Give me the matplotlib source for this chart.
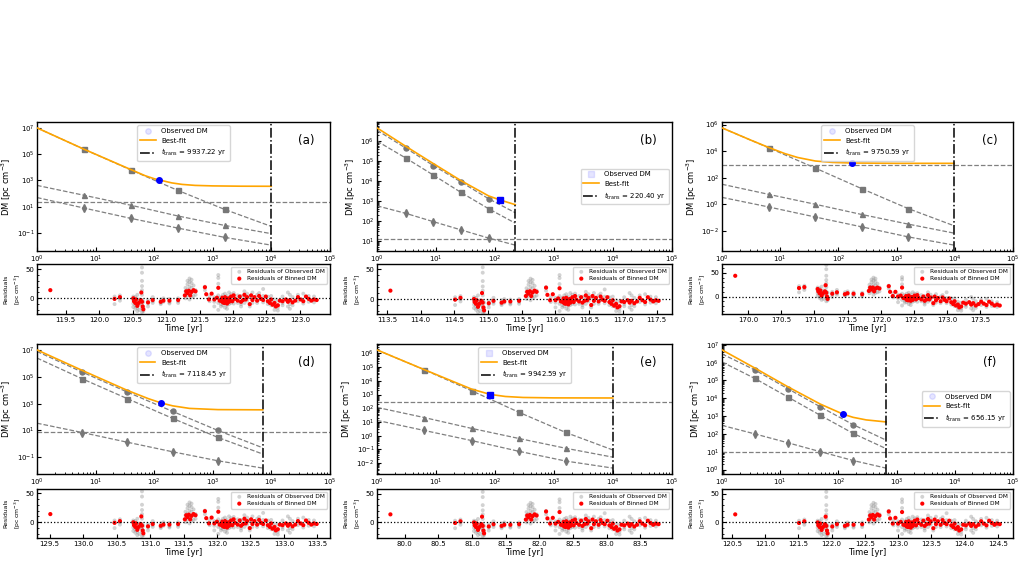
import numpy as np
import matplotlib.pyplot as plt
from matplotlib.ticker import MultipleLocator, AutoMinorLocator

plt.rcParams['font.family'] = 'DejaVu Sans'
plt.rcParams['mathtext.fontset'] = 'dejavusans'

#################################################
# main panels: model components

labels = ['(a)', '(b)', '(c)', '(d)', '(e)', '(f)']
t_trans = [9937.22, 220.40, 9750.59, 7118.45, 9942.59, 656.15]

# component curves: times (start, 4 marker times, t_trans)
a_t = [1, 6.3, 40, 251, 1585, 9937.22]
a_sq = [1e7, 2.4e5, 6.3e3, 178, 6.3, 0.32]
a_tri = [420, 75, 13, 2.0, 0.38, 0.09]
a_dia = [50, 8, 1.3, 0.24, 0.047, 0.012]
a_const = 24
a_fit_t = [1, 6.3, 40, 70, 100, 122, 160, 200, 300, 500, 1000, 3000, 9937.22]
a_fit = [1e7, 2.4e5, 6.7e3, 2.3e3, 1.35e3, 1.1e3, 820, 650, 500, 420, 385, 365, 360]

b_t = [1, 3.1, 9.0, 26.5, 78, 220.40]
b_circ = [3.5e6, 4.4e5, 6e4, 9e3, 1.3e3, 260]
b_sq = [1e6, 1.4e5, 2e4, 2.7e3, 410, 78]
b_dia = [575, 240, 93, 36, 14, 6.2]
b_const = 12
b_fit_t = [1, 3.1, 9, 26.5, 78, 120, 160, 220.40]
b_fit = [4.6e6, 5.4e5, 7.5e4, 1.05e4, 1.8e3, 1.15e3, 880, 660]

c_t = [1, 6.3, 40, 251, 1585, 9750.59]
c_sq = [5.6e5, 1.8e4, 530, 15, 0.47, 0.024]
c_tri = [32, 5.6, 1.0, 0.17, 0.032, 0.0067]
c_dia = [3.3, 0.63, 0.11, 0.02, 0.0035, 8.4e-4]
c_const = 840
c_fit_t = [1, 3, 6.3, 12, 20, 40, 80, 175, 1000, 9750.59]
c_fit = [5.6e5, 7.2e4, 1.9e4, 6.5e3, 3.3e3, 1.8e3, 1.4e3, 1.27e3, 1.2e3, 1.2e3]

d_t = [1, 5.9, 35, 207, 1220, 7118.45]
d_circ = [8.4e6, 2.4e5, 7.5e3, 266, 10, 0.5]
d_sq = [2.7e6, 7.5e4, 2.4e3, 80, 3, 0.17]
d_dia = [35, 7, 1.3, 0.25, 0.053, 0.015]
d_const = 8
d_fit_t = [1, 5.9, 35, 80, 132, 207, 400, 1220, 7118.45]
d_fit = [1.1e7, 3.2e5, 1.0e4, 2.4e3, 1.15e3, 700, 450, 365, 352]

e_t = [1, 6.3, 40, 251, 1585, 9942.59]
e_sq = [1.8e6, 6.5e4, 1.9e3, 52, 1.7, 0.09]
e_tri = [115, 21, 3.4, 0.63, 0.12, 0.027]
e_dia = [13, 2.4, 0.44, 0.073, 0.014, 0.0043]
e_const = 270
e_fit_t = [1, 6.3, 40, 83, 150, 300, 1000, 9942.59]
e_fit = [1.8e6, 6.6e4, 2.5e3, 1.02e3, 720, 610, 570, 560]

f_t = [1, 3.66, 13.4, 49, 179, 656.15]
f_circ = [3.1e6, 3.9e5, 3.5e4, 3.3e3, 330, 45]
f_sq = [1.1e6, 1.3e5, 1.2e4, 1.1e3, 107, 15]
f_dia = [300, 100, 32, 10, 3.2, 1.2]
f_const = 9.3
f_fit_t = [1, 3.66, 13.4, 49, 122, 179, 300, 656.15]
f_fit = [5.2e6, 5.0e5, 4.5e4, 4.7e3, 1.26e3, 850, 610, 470]

# observed DM point (time, DM, marker)
obs_t = [122, 120, 172, 132, 83, 122]
obs_dm = [1050, 1150, 1300, 1100, 1000, 1260]
obs_marker = ['o', 's', 'o', 'o', 's', 'o']

legend_loc = ['upper center', 'center right', 'upper center',
              'upper center', 'upper center', 'center right']

# y tick decades per panel
yticks_exp = [[-1, 1, 3, 5, 7], [1, 2, 3, 4, 5, 6], [-2, 0, 2, 4, 6],
              [-1, 1, 3, 5, 7], [-2, -1, 0, 1, 2, 3, 4, 5, 6], [0, 1, 2, 3, 4, 5, 6, 7]]

#################################################
# residuals: offsets from first epoch [yr]

t0 = [119.27, 113.55, 169.81, 129.51, 79.79, 120.55]

bin_rel = [0.00, 0.96, 1.04, 1.24, 1.25, 1.27, 1.28, 1.30, 1.32, 1.35, 1.36, 1.37, 1.38, 1.39, 1.46, 1.53, 1.65, 1.69, 1.78, 1.91,
           2.01, 2.03, 2.05, 2.07, 2.09, 2.11, 2.14, 2.17, 2.31, 2.33, 2.37, 2.41, 2.45, 2.49, 2.51, 2.53, 2.56, 2.57, 2.58, 2.59,
           2.60, 2.61, 2.62, 2.63, 2.64, 2.65, 2.66, 2.67, 2.68, 2.70, 2.72, 2.74, 2.76, 2.80, 2.83, 2.85, 2.88, 2.90, 2.92, 2.94,
           2.98, 3.00, 3.02, 3.05, 3.09, 3.12, 3.15, 3.18, 3.22, 3.25, 3.28, 3.30, 3.32, 3.35, 3.37, 3.40, 3.43, 3.47, 3.52, 3.55,
           3.58, 3.62, 3.66, 3.70, 3.74, 3.78, 3.82, 3.86, 3.90, 3.94, 3.98]
bin_val = [14, -1, 2, 0, -5, -8, -2, -13, -8, -3, 10, -6, -14, -19, -7, -3, -6, -4, -4, -3,
           5, 12, 9, 13, 5, 11, 14, 12, 19, 7, -2, 8, -2, 1, 18, -4, -5, 1, -7, -3,
           -8, 2, -5, -2, -9, -4, 0, -6, -3, 3, -5, 5, -1, -4, 3, -6, -3, 6, -2, 2,
           -10, 5, -3, 2, -4, 4, -1, -3, 3, -5, -8, -2, -11, -8, -14, -12, -4, -5, -2, -6,
           -3, -7, -4, 2, -2, -5, 3, -1, -4, -2, -3]
bin_val_c = [44, 18, 20, 16, 11, 7, 13, 2, 7, 11, 24, 8, 0, -5, 6, 9, 5, 7, 6, 5,
             12, 19, 15, 19, 11, 17, 19, 17, 22, 10, 1, 10, 0, 2, 19, -3, -4, 1, -7, -3,
             -8, 2, -5, -2, -9, -4, -1, -7, -4, 2, -6, 3, -3, -6, 0, -9, -6, 3, -6, -2,
             -14, 0, -8, -3, -10, -2, -7, -10, -4, -12, -16, -10, -19, -17, -23, -21, -13, -15, -12, -17,
             -14, -19, -16, -11, -15, -18, -11, -15, -19, -17, -19]

gray_rel = [0.96, 1.04, 1.24, 1.27, 1.30, 1.33, 1.37, 1.39, 1.46, 1.53, 1.65, 1.69, 1.78, 1.91,
            2.02, 2.05, 2.08, 2.11, 2.14, 2.17, 2.31, 2.38, 2.45, 2.51, 2.55, 2.58, 2.61, 2.64,
            2.67, 2.70, 2.74, 2.80, 2.85, 2.90, 2.94, 2.98, 3.02, 3.09, 3.12, 3.18, 3.25, 3.30,
            3.35, 3.40, 3.47, 3.55, 3.58, 3.62, 3.70, 3.78, 3.86, 3.94]
gray_val = [[3, -1, -10], [5, 0, -4], [3, -3, -9, -15], [-6, -12, -18, 2], [-4, -16, -22, 6],
            [-2, -10, -20], [53, 44, 30, 21, 14, 6, -3, -11, -17, -24], [-6, -15, -22], [-3, -9, -14],
            [2, -5, -8], [-2, -8, -10], [0, -6], [-1, -7, -9], [0, -5, -8],
            [0, 6, 12, 18], [5, 15, 24, 30], [-2, 8, 20, 28, 34], [2, 10, 18, 26, 32], [4, 12, 22],
            [6, 14], [14, 20], [3, -5], [2, -6, -14], [40, 35, 25, 5, -8, -20], [2, -10, -14],
            [6, -3, -12], [8, -6, -16], [4, -12, -18], [10, -2, -10], [7, -8], [9, 0, -9], [5, -8],
            [4, -10, -14], [12, 2, -8], [8, -4], [3, -14], [10, 0, -8], [6, -8], [9, -2], [16, 4, -7],
            [3, -10], [4, -6, -12], [-2, -14, -20], [-4, -16, -21], [3, -8, -12], [10, -4, -14],
            [6, -10, -18], [2, -12], [6, -5], [8, -9], [4, -6], [3, -7]]
gray_val_c = [[22, 18, 9], [23, 18, 14], [19, 13, 7, 1], [9, 3, -3, 17], [11, -1, -7, 21],
              [13, 5, -5], [67, 58, 44, 35, 28, 20, 11, 3, -3, -10], [8, -1, -8], [10, 4, -1],
              [14, 7, 4], [9, 3, 1], [11, 5], [9, 3, 1], [8, 3, 0],
              [7, 13, 19, 25], [11, 21, 30, 36], [4, 14, 26, 34, 40], [8, 16, 24, 32, 38], [9, 17, 27],
              [11, 19], [17, 23], [6, -2], [4, -4, -12], [41, 36, 26, 6, -7, -19], [3, -9, -13],
              [6, -3, -12], [8, -6, -16], [4, -12, -18], [9, -3, -11], [6, -9], [7, -2, -11], [3, -10],
              [1, -13, -17], [9, -1, -11], [4, -8], [-1, -18], [5, -5, -13], [0, -14], [3, -8], [9, -3, -14],
              [-4, -17], [-4, -14, -20], [-11, -23, -29], [-13, -25, -30], [-7, -18, -22], [-1, -15, -25],
              [-5, -21, -29], [-10, -24], [-7, -18], [-5, -22], [-10, -20], [-12, -22]]

resid_ylim = [(-27, 59), (-25, 58.5), (-37, 69), (-27, 57), (-27, 58), (-27, 58)]

#################################################
# helpers

TICK_FS = 5.0

def draw_main(ax, k, comp_t, comps, const, fit_t, fit):
    for marker, vals in comps:
        ax.plot(comp_t, vals, ls='--', color='gray', lw=0.9, marker=marker,
                markevery=[1, 2, 3, 4], ms=3.6, mfc='#777777', mec='#777777', zorder=2)
    ax.axhline(const, ls='--', color='gray', lw=0.9, zorder=2)
    h_fit, = ax.plot(fit_t, fit, color='orange', lw=1.2, zorder=3)
    h_obs, = ax.plot([obs_t[k]], [obs_dm[k]], obs_marker[k], color='blue', ms=4, zorder=5)
    h_tr = ax.axvline(t_trans[k], color='k', ls='-.', lw=1.1, zorder=4)
    ax.set_xscale('log')
    ax.set_yscale('log')
    ax.set_xlim(1, 1e5)
    ax.set_yticks([10.0**e for e in yticks_exp[k]])
    ax.set_ylabel(r'DM [pc cm$^{-3}$]', fontsize=6.0, labelpad=2)
    ax.tick_params(which='both', direction='in', labelsize=TICK_FS, pad=2)
    ax.tick_params(which='major', length=3)
    ax.tick_params(which='minor', length=1.6)
    leg = ax.legend([h_obs, h_fit, h_tr],
                    ['Observed DM', 'Best-fit', r'$t_{\rm trans}$ = %.2f yr' % t_trans[k]],
                    loc=legend_loc[k], fontsize=5.0, handlelength=2.2)
    leg.legend_handles[0].set_alpha(0.1)
    ax.text(0.92, 0.86, labels[k], transform=ax.transAxes, fontsize=8.5,
            ha='center', va='center')
    for s in ax.spines.values():
        s.set_linewidth(1.0)


def draw_resid(ax, k, gvals, bvals):
    gt, gv = [], []
    for r, vals in zip(gray_rel, gvals):
        for v in vals:
            gt.append(t0[k] + r)
            gv.append(v)
    ax.scatter(gt, gv, s=8, color='gray', alpha=0.35, edgecolors='none',
               label='Residuals of Observed DM', zorder=2)
    ax.scatter([t0[k] + r for r in bin_rel], bvals, s=9, color='red',
               edgecolors='none', label='Residuals of Binned DM', zorder=3)
    ax.axhline(0, color='k', ls=':', lw=0.9, zorder=4)
    ax.set_ylim(*resid_ylim[k])
    ax.xaxis.set_major_locator(MultipleLocator(0.5))
    ax.set_yticks([0, 50])
    ax.yaxis.set_minor_locator(AutoMinorLocator(5))
    ax.tick_params(which='both', direction='in', labelsize=TICK_FS, pad=2)
    ax.tick_params(which='major', length=3)
    ax.tick_params(which='minor', length=1.5)
    ax.set_xlabel('Time [yr]', fontsize=6.0, labelpad=1)
    ax.set_ylabel('Residuals\n' + r'[pc cm$^{-3}$]', fontsize=4.4, labelpad=2,
                  linespacing=1.5)
    ax.legend(loc='upper right', fontsize=4.2, handletextpad=0.3, borderpad=0.4,
              labelspacing=0.3)
    for s in ax.spines.values():
        s.set_linewidth(1.0)

#################################################

fig = plt.figure(figsize=(10.26, 5.64), dpi=100)
W, H = 1026.0, 564.0

col_left = [37, 377, 722]
col_width = [293, 295, 291]
main_rows = [(122, 251), (344, 474)]
res_rows = [(264, 314), (489, 538)]

panel_comps = [
    (a_t, [('s', a_sq), ('^', a_tri), ('d', a_dia)], a_const, a_fit_t, a_fit),
    (b_t, [('o', b_circ), ('s', b_sq), ('d', b_dia)], b_const, b_fit_t, b_fit),
    (c_t, [('s', c_sq), ('^', c_tri), ('d', c_dia)], c_const, c_fit_t, c_fit),
    (d_t, [('o', d_circ), ('s', d_sq), ('d', d_dia)], d_const, d_fit_t, d_fit),
    (e_t, [('s', e_sq), ('^', e_tri), ('d', e_dia)], e_const, e_fit_t, e_fit),
    (f_t, [('o', f_circ), ('s', f_sq), ('d', f_dia)], f_const, f_fit_t, f_fit),
]

for k in range(6):
    row, col = divmod(k, 3)
    x0 = col_left[col] / W
    w = col_width[col] / W
    top, bot = main_rows[row]
    ax = fig.add_axes([x0, 1 - bot / H, w, (bot - top) / H])
    draw_main(ax, k, *panel_comps[k])

    rtop, rbot = res_rows[row]
    axr = fig.add_axes([x0, 1 - rbot / H, w, (rbot - rtop) / H])
    if k == 2:
        draw_resid(axr, k, gray_val_c, bin_val_c)
    else:
        draw_resid(axr, k, gray_val, bin_val)

fig.savefig('out.png', dpi=100)
